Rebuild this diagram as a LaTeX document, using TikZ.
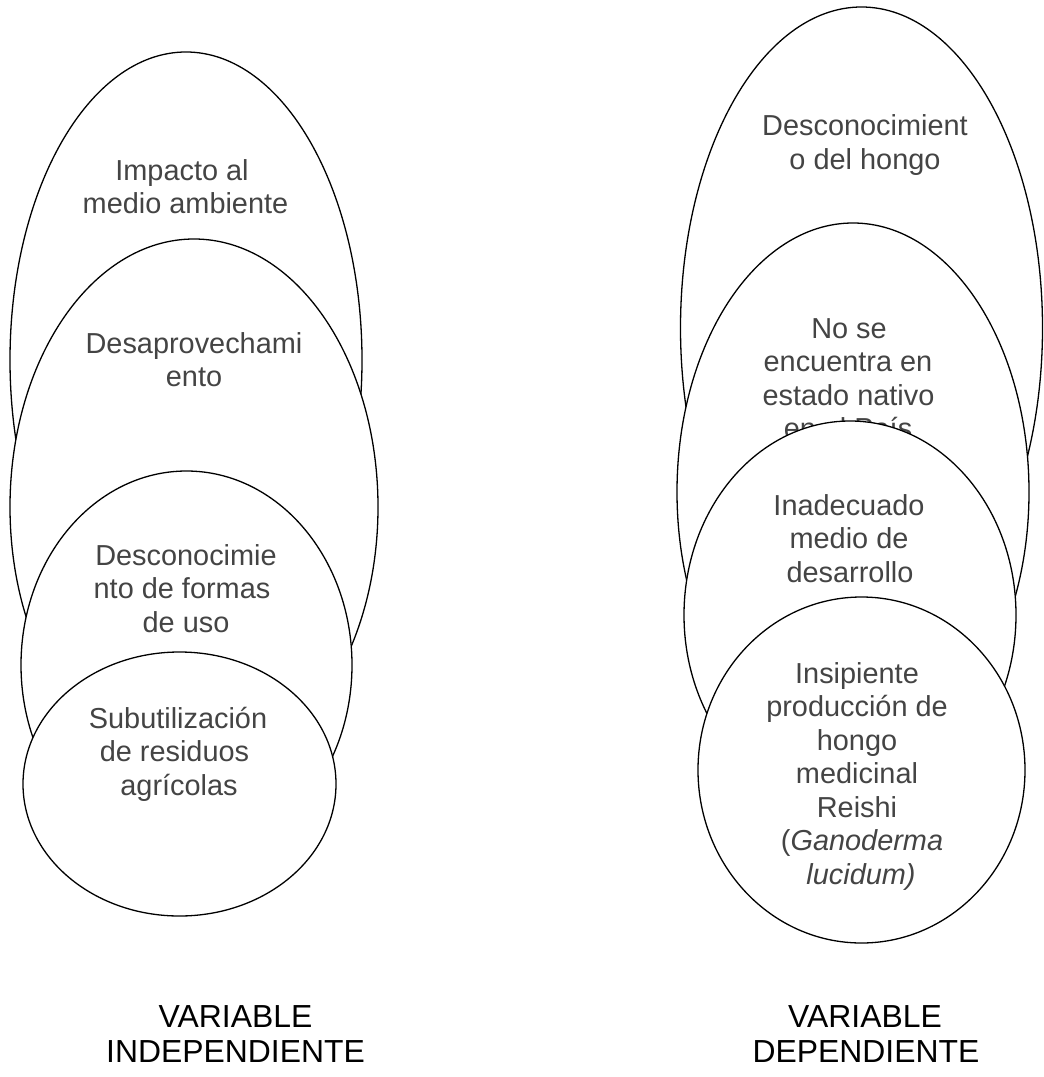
\documentclass[tikz,border=0pt]{standalone}
\usepackage{fontspec}
\setmainfont{Liberation Sans}
\usetikzlibrary{shapes.geometric}
\definecolor{txtgray}{HTML}{444444}
\tikzset{
  oval/.style={ellipse, draw=black, line width=1.3bp, fill=white, inner sep=0pt, outer sep=0pt},
  ovaltext/.style={anchor=base, inner sep=0pt, text=txtgray, font=\fontsize{29}{33.5}\selectfont},
  vartext/.style={anchor=base, inner sep=0pt, text=black, font=\fontsize{32}{36}\selectfont},
}
\begin{document}
\begin{tikzpicture}[x=1bp,y=-1bp]
\useasboundingbox (0,0) rectangle (1044,1077);
% ---------- left column ----------
\node[oval, minimum width=352bp, minimum height=616bp] (e1) at (186,360) {};
\node[ovaltext] (t1a) at (182,180) {Impacto al};
\node[ovaltext] (t1b) at (185.5,213) {medio ambiente};
\node[oval, minimum width=368bp, minimum height=536bp] (e2) at (194,507) {};
\node[ovaltext] (t2a) at (194,353) {Desaprovechami};
\node[ovaltext] (t2b) at (194,386.5) {ento};
\node[oval, minimum width=331bp, minimum height=388bp] (e3) at (186.5,665) {};
\node[ovaltext] (t3a) at (186,565) {Desconocimie};
\node[ovaltext] (t3b) at (182,598.5) {nto de formas};
\node[ovaltext] (t3c) at (186,632) {de uso};
\node[oval, minimum width=313bp, minimum height=264bp] (e4) at (179.5,784) {};
\node[ovaltext] (t4a) at (178,728) {Subutilización};
\node[ovaltext] (t4b) at (174.5,761.5) {de residuos};
\node[ovaltext] (t4c) at (179,795) {agrícolas};
% ---------- right column ----------
\node[oval, minimum width=362bp, minimum height=642bp] (r1) at (861.5,328) {};
\node[ovaltext] (s1a) at (865,135.5) {Desconocimient};
\node[ovaltext] (s1b) at (865,169) {o del hongo};
\node[oval, minimum width=352bp, minimum height=538bp] (r2) at (853,492) {};
\node[ovaltext] (s2a) at (849,338) {No se};
\node[ovaltext] (s2b) at (848,371.5) {encuentra en};
\node[ovaltext] (s2c) at (848.5,405) {estado nativo};
\node[ovaltext] (s2d) at (848,438.5) {en el País};
\node[oval, minimum width=332bp, minimum height=388bp] (r3) at (850,615) {};
\node[ovaltext] (s3a) at (849,515) {Inadecuado};
\node[ovaltext] (s3b) at (849,548.5) {medio de};
\node[ovaltext] (s3c) at (850,582) {desarrollo};
\node[oval, minimum width=327bp, minimum height=346bp] (r4) at (861.5,770) {};
\node[ovaltext] (s4a) at (857,683) {Insipiente};
\node[ovaltext] (s4b) at (857,716.5) {producción de};
\node[ovaltext] (s4c) at (857,750) {hongo};
\node[ovaltext] (s4d) at (857,783.5) {medicinal};
\node[ovaltext] (s4e) at (857,817) {Reishi};
\node[ovaltext] (s4f) at (862,850.5) {(\textit{Ganoderma}};
\node[ovaltext] (s4g) at (861,884) {\textit{lucidum)}};
% ---------- labels ----------
\node[vartext] (v1a) at (235.5,1027) {VARIABLE};
\node[vartext] (v1b) at (235.5,1062) {INDEPENDIENTE};
\node[vartext] (v2a) at (865,1027) {VARIABLE};
\node[vartext] (v2b) at (866,1062) {DEPENDIENTE};
\end{tikzpicture}
\end{document}
